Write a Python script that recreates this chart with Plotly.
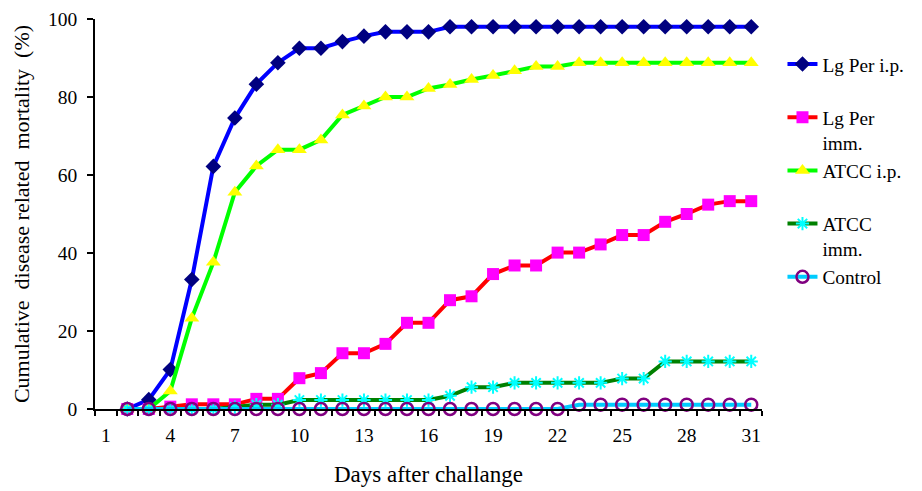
import plotly.graph_objects as go

days = list(range(2, 32))

lg_per_ip = [0, 2.4, 10.1, 33.2, 62.2, 74.6, 83.3, 88.8, 92.5, 92.5, 94.2, 95.6, 96.7, 96.7, 96.7,
             98, 98, 98, 98, 98, 98, 98, 98, 98, 98, 98, 98, 98, 98, 98]
lg_per_imm = [0, 0, 0.6, 1.2, 1.2, 1.2, 2.6, 2.6, 7.9, 9.2, 14.3, 14.3, 16.7, 22.1, 22.1,
              27.9, 28.9, 34.6, 36.8, 36.8, 40.1, 40.1, 42.2, 44.6, 44.6, 48.0, 50.0, 52.4, 53.3, 53.3]
atcc_ip = [0, 0, 4.6, 23.3, 37.6, 55.6, 62.3, 66.5, 66.5, 69.0, 75.4, 77.7, 80.0, 80.0, 82.2,
           83.2, 84.5, 85.5, 86.7, 87.8, 87.8, 88.8, 88.8, 88.8, 88.8, 88.8, 88.8, 88.8, 88.8, 88.8]
atcc_imm = [0, 0, 0, 0, 0, 0.5, 1.1, 1.1, 2.3, 2.3, 2.3, 2.3, 2.3, 2.3, 2.3,
            3.4, 5.6, 5.6, 6.7, 6.7, 6.7, 6.7, 6.7, 7.8, 7.8, 12.2, 12.2, 12.2, 12.2, 12.2]
control = [0] * 21 + [1.1] * 9

x_tick_vals = [1, 4, 7, 10, 13, 16, 19, 22, 25, 28, 31]
y_tick_vals = [0, 20, 40, 60, 80, 100]

FONT = "Times New Roman"

series = [
    ("Lg Per i.p.<br> ", lg_per_ip, "#0000FF", dict(symbol="diamond", size=12, color="#000080")),
    ("Lg Per<br>imm.", lg_per_imm, "#FF0000", dict(symbol="square", size=12, color="#FF00FF")),
    ("ATCC i.p.<br> ", atcc_ip, "#00FF00", dict(symbol="triangle-up", size=13, color="#FFFF00")),
    ("ATCC<br>imm.", atcc_imm, "#008000", dict(symbol="asterisk-open", size=11, color="#00FFFF",
                                                line=dict(color="#00FFFF", width=2))),
    ("Control<br> ", control, "#00CCFF", dict(symbol="circle-open", size=12, color="#800080",
                                              line=dict(color="#800080", width=2.5))),
]

fig = go.Figure()
for i, (name, vals, lc, mk) in enumerate(series):
    fig.add_trace(go.Scatter(
        x=days, y=vals, name=name, mode="lines+markers",
        line=dict(color=lc, width=4), marker=mk, cliponaxis=False,
        legendgroup=f"g{i}",
    ))

fig.update_layout(
    width=922, height=491,
    margin=dict(l=87, r=168, t=11, b=90, autoexpand=False),
    paper_bgcolor="white", plot_bgcolor="white",
    font=dict(family=FONT, size=20, color="black"),
    showlegend=True,
    legend=dict(
        xref="container", yref="container",
        x=0.840, y=1 - 37 / 491, xanchor="left", yanchor="top",
        font=dict(family=FONT, size=19.3, color="black"),
        valign="top", tracegroupgap=0, bgcolor="rgba(0,0,0,0)",
        maxheight=400,
    ),
    xaxis=dict(
        range=[0.5, 31.5], showgrid=False, zeroline=False,
        showline=True, linecolor="black", linewidth=1.5,
        tickmode="array", tickvals=x_tick_vals, ticks="",
        ticklabelstandoff=8,
        minor=dict(tickmode="array", tickvals=[d + 0.5 for d in range(0, 32)],
                   ticks="outside", ticklen=5, tickcolor="black", tickwidth=1.5),
        title=dict(text="Days after challange", font=dict(family=FONT, size=23), standoff=21),
        tickfont=dict(family=FONT, size=19.5),
    ),
    yaxis=dict(
        range=[0, 100], showgrid=False, zeroline=False,
        showline=True, linecolor="black", linewidth=1.5,
        tickmode="array", tickvals=y_tick_vals, ticks="outside", ticklen=6,
        tickcolor="black", tickwidth=1.5, ticklabelstandoff=6,
        ticklabeloverflow="allow",
        title=dict(text="Cumulative  disease related  mortality  (%)", font=dict(family=FONT, size=22), standoff=12),
        tickfont=dict(family=FONT, size=19.5),
    ),
)

fig.write_html("out.html")
